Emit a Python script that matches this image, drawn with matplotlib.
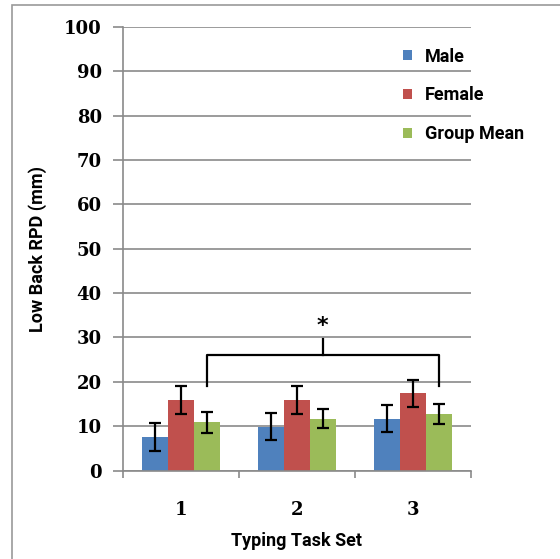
import matplotlib
matplotlib.use("Agg")
import matplotlib.pyplot as plt
from matplotlib.patches import Rectangle
import numpy as np

categories = ["1", "2", "3"]
series_names = ["Male", "Female", "Group Mean"]
male = [7.5, 9.9, 11.7]
female = [15.9, 15.9, 17.4]
group_mean = [10.9, 11.7, 12.7]
male_err = [3.1, 3.1, 3.1]
female_err = [3.1, 3.1, 3.1]
group_mean_err = [2.4, 2.2, 2.2]
yticks = [0, 10, 20, 30, 40, 50, 60, 70, 80, 90, 100]
bracket_low, bracket_mid, bracket_top = 19.1, 26.1, 29.6
star_y = 32.5

colors = ["#4F81BD", "#C0504D", "#9BBB59"]
label_font = "Roboto"
tick_font = "DejaVu Serif"

fig = plt.figure(figsize=(5.6, 5.59), dpi=100)
ax = fig.add_axes([0.219, 0.1583, 0.6215, 0.7934])

x = np.arange(1, len(categories) + 1)
w = 0.224
vals = [male, female, group_mean]
errs = [male_err, female_err, group_mean_err]
for i, (v, e, c, n) in enumerate(zip(vals, errs, colors, series_names)):
    ax.bar(x + (i - 1) * w, v, width=w, color=c, label=n, zorder=2)
    ax.errorbar(x + (i - 1) * w, v, yerr=e, fmt="none", ecolor="black",
                elinewidth=1.6, capsize=4, capthick=1.6, zorder=3)

ax.set_xlim(0.5, 3.5)
ax.set_ylim(0, 100)
ax.set_yticks(yticks)
ax.yaxis.grid(True, color="#8a8a8a", linewidth=1.2, zorder=0)
ax.set_axisbelow(True)
for s in ["top", "right"]:
    ax.spines[s].set_visible(False)
for s in ["left", "bottom"]:
    ax.spines[s].set_color("#8a8a8a")
    ax.spines[s].set_linewidth(1.2)
ax.tick_params(axis="y", length=7, color="#8a8a8a", width=1.2, pad=8)
ax.set_xticks(x)
ax.set_xticklabels(categories)
ax.tick_params(axis="x", which="major", length=0, pad=22)
ax.set_xticks([0.5, 1.5, 2.5, 3.5], minor=True)
ax.tick_params(axis="x", which="minor", length=5, color="#8a8a8a", width=1.2)
for lab in ax.get_xticklabels() + ax.get_yticklabels():
    lab.set_fontfamily(tick_font)
    lab.set_fontweight("bold")
    lab.set_fontsize(13)

ax.set_xlabel("Typing Task Set", fontfamily=label_font, fontweight="bold",
              fontsize=13, labelpad=9)
ax.set_ylabel("Low Back RPD (mm)", fontfamily=label_font, fontweight="bold",
              fontsize=13, labelpad=12)

# significance bracket between Group Mean of set 1 and set 3
xl = x[0] + w
xr = x[2] + w
ax.plot([xl, xl, xr, xr], [bracket_low, bracket_mid, bracket_mid, bracket_low],
        color="black", linewidth=1.6, zorder=4)
xm = (xl + xr) / 2
ax.plot([xm, xm], [bracket_mid, bracket_top], color="black", linewidth=1.6, zorder=4)
ax.text(xm, star_y, "*", ha="center", va="center", fontsize=16,
        fontweight="bold", fontfamily="DejaVu Sans")

leg = ax.legend(loc="upper right", bbox_to_anchor=(1.2, 0.99), frameon=False,
                prop={"family": label_font, "weight": "bold", "size": 13},
                handlelength=0.5, handleheight=0.5, handletextpad=0.7,
                labelspacing=1.15)

fig.patches.append(Rectangle((12 / 560, -0.1), 1.2, 1 - 5 / 559 + 0.1,
                             transform=fig.transFigure, fill=False,
                             edgecolor="#9a9a9a", linewidth=1.2))

fig.savefig("out.png", dpi=100, facecolor="white")
